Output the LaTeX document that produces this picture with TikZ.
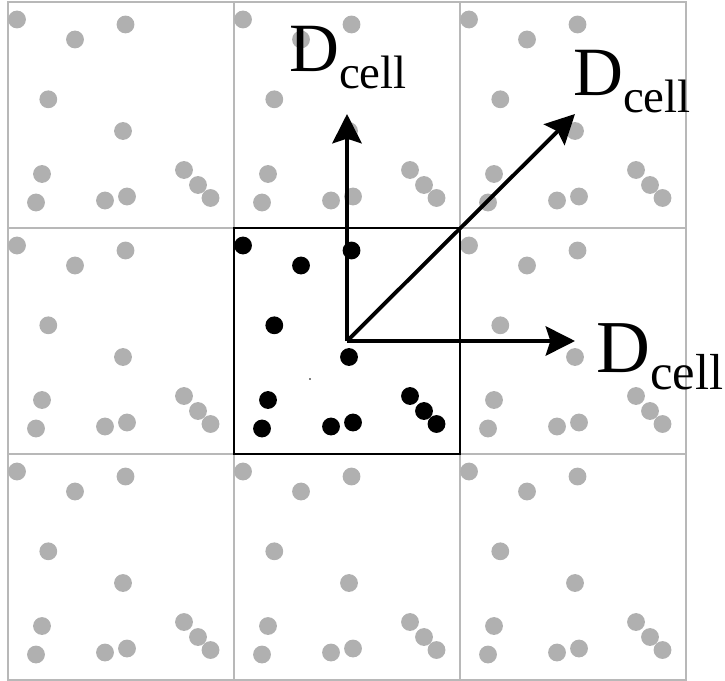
\documentclass[tikz,border=0pt]{standalone}
\usepackage{fontspec}
\setmainfont{Liberation Serif}
\usetikzlibrary{arrows.meta}
\definecolor{ptgray}{HTML}{B0B0B0}
\definecolor{gridgray}{HTML}{B8B8B8}
\newcommand{\dcell}{{\fontsize{59}{62}\selectfont D}\raisebox{-14pt}{\fontsize{40}{42}\selectfont cell}}

\tikzset{
  cellline/.style={gridgray, line width=1.6pt},
  particle/.style={radius=7.6pt},
  dvec/.style={->, line width=3.3pt},
  dlabel/.style={anchor=base west, inner sep=0pt},
}

\begin{document}
\begin{tikzpicture}[x=0.03cm, y=-0.03cm, >={Stealth[length=25pt, width=25pt, inset=4pt]}]
  \useasboundingbox (0,0) rectangle (725,681);
  % Cells
  \foreach \i in {0,1,2} {
    \foreach \j in {0,1,2} {
      \draw[cellline] (8+226*\i, 2+226*\j) rectangle ++(226,226);
    }
  }
  % Periodic images
  \foreach \i/\j in {0/0,1/0,2/0,0/1,2/1,0/2,1/2,2/2} {
    \foreach \dx/\dy in {9/17.5,67/37.5,117.5/22.5,40.3/97.3,115/129,34/172,
                         28/200.5,97/198.5,119/194.5,176/168,190/183,202.5/196} {
      \fill[ptgray] (8+226*\i+\dx, 2+226*\j+\dy) circle[particle];
    }
  }
  % Central cell
  \draw[black, line width=1.2pt] (234,228) rectangle (460,454);
  \foreach \dx/\dy in {9/17.5,67/37.5,117.5/22.5,40.3/97.3,115/129,34/172,
                       28/200.5,97/198.5,119/194.5,176/168,190/183,202.5/196} {
    \fill[black] (234+\dx, 228+\dy) circle[particle];
  }
  \fill[black] (310,379) circle[radius=0.7pt];
  % Cell vectors
  \coordinate (o) at (347,341);
  \coordinate (up) at (347,114);
  \coordinate (ur) at (575,114);
  \coordinate (rt) at (575,341);
  \draw[dvec] (o) -- (up);
  \draw[dvec] (o) -- (ur);
  \draw[dvec] (o) -- (rt);
  % Labels
  \node[dlabel] (lup) at (289,72) {\dcell};
  \node[dlabel] (lur) at (573,96) {\dcell};
  \node[dlabel] (lrt) at (596,372) {\scalebox{1.08}{\dcell}};
\end{tikzpicture}
\end{document}
